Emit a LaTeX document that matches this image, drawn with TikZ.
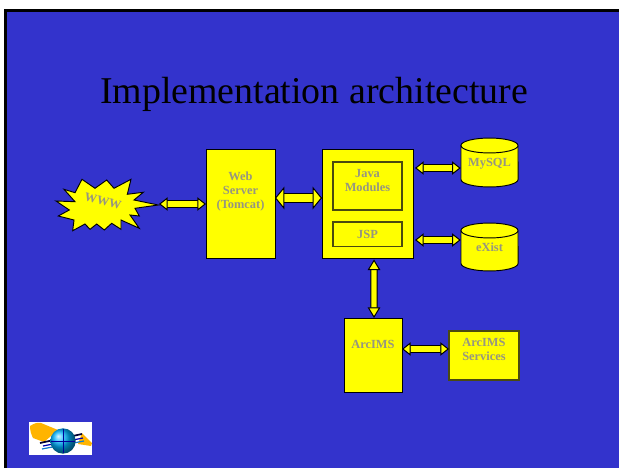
\documentclass[tikz,border=0pt]{standalone}
\usepackage{fontspec}
\setmainfont{Liberation Serif}
\usetikzlibrary{arrows.meta}
\definecolor{slideblue}{HTML}{3333CC}
\definecolor{boxyellow}{HTML}{FFFF00}
\definecolor{boxtext}{HTML}{969680}
\definecolor{innerline}{HTML}{4A4A10}
\definecolor{logoorange}{HTML}{FFB400}
\tikzset{
  x=0.75pt,y=-0.75pt,
  boxnode/.style={draw=black,line width=0.7pt,fill=boxyellow,inner sep=0pt,outer sep=0pt},
  innerbox/.style={draw=innerline,line width=0.8pt,fill=boxyellow,inner sep=0pt,outer sep=0pt},
  lbl/.style={text=boxtext,font=\bfseries\fontsize{9.3pt}{10.5pt}\selectfont,align=center,inner sep=0pt},
  cyl/.style={draw=black,line width=0.7pt,fill=boxyellow},
  dbarrow/.style={draw=black,line width=0.75pt,double=boxyellow,double distance=4.2pt,
    {Triangle[length=6.5pt,width=10pt,fill=boxyellow]}-{Triangle[length=6.5pt,width=10pt,fill=boxyellow]}},
  dbarrowthick/.style={draw=black,line width=0.75pt,double=boxyellow,double distance=6.2pt,
    {Triangle[length=7pt,width=17pt,fill=boxyellow]}-{Triangle[length=7pt,width=17pt,fill=boxyellow]}},
  dbarrowtall/.style={draw=black,line width=0.75pt,double=boxyellow,double distance=4pt,
    {Triangle[length=8pt,width=9.5pt,fill=boxyellow]}-{Triangle[length=8pt,width=9.5pt,fill=boxyellow]}}
}
\begin{document}
\begin{tikzpicture}
\useasboundingbox (0,0) rectangle (619,468);
\fill[white] (0,0) rectangle (619,468);
\fill[black] (4,9) rectangle (619,468);
\fill[slideblue] (7,12) rectangle (619,468);
\node[font=\fontsize{28.4pt}{32pt}\selectfont,text=black,inner sep=0pt] (title) at (314,94) {Implementation architecture};

% star
\draw[fill=boxyellow,draw=black,line width=0.7pt,line join=miter]
 (56,201)--(75,201.7)--(64,189.3)--(75,192.7)--(82,179.3)--(95,188.3)--(106.7,180)--(114,188.3)--(131,179.3)--(127.3,194.3)--(143.3,192.3)--(134,200)--(158.3,205)--(135,208.3)--(139.3,216)--(130,215)--(139.3,228.3)--(121,220)--(121,229.3)--(111.7,223.3)--(104.3,230)--(96.7,224)--(90,229.3)--(85,224)--(72.7,230.7)--(74,220)--(58.3,216)--(69.3,210)--cycle;
\coordinate (startip) at (159,204);
\node[lbl,rotate=-14] (www) at (103,201) {WWW};

\node[boxnode,minimum width=51.75pt,minimum height=81.75pt] (web) at (240.5,204) {};
\node[lbl] (webt) at (240.5,191.5) {Web\\Server\\(Tomcat)};

\node[boxnode,minimum width=68.25pt,minimum height=81.75pt] (server) at (367.5,204) {};
\node[innerbox,minimum width=51.75pt,minimum height=36pt] (java) at (367.5,186) {};
\node[lbl] (javat) at (367.5,181) {Java\\Modules};
\node[innerbox,minimum width=51.75pt,minimum height=18.5pt,text=boxtext,font=\bfseries\fontsize{9.3pt}{10.5pt}\selectfont] (jsp) at (367.5,234.3) {JSP};

% cylinders
\draw[cyl] (461,145.5) -- (461,179.5) arc[start angle=180,end angle=360,x radius=21.4pt,y radius=5.6pt] -- (518,145.5) arc[start angle=0,end angle=180,x radius=21.4pt,y radius=5.6pt] -- cycle;
\draw[cyl,fill=none] (461,145.5) arc[start angle=180,end angle=360,x radius=21.4pt,y radius=5.6pt];
\node[lbl,minimum width=42.75pt,minimum height=36pt] (mysql) at (489.5,163.5) {MySQL};
\draw[cyl] (461,230.5) -- (461,263.5) arc[start angle=180,end angle=360,x radius=21.4pt,y radius=5.6pt] -- (518,230.5) arc[start angle=0,end angle=180,x radius=21.4pt,y radius=5.6pt] -- cycle;
\draw[cyl,fill=none] (461,230.5) arc[start angle=180,end angle=360,x radius=21.4pt,y radius=5.6pt];
\node[lbl,minimum width=42.75pt,minimum height=36pt] (exist) at (489.5,247) {eXist};

\node[boxnode,minimum width=43.5pt,minimum height=55.5pt] (arcims) at (373,355) {};
\node[lbl] (arcimst) at (373,344) {ArcIMS};
\node[innerbox,minimum width=52.5pt,minimum height=36.75pt] (services) at (484,355.5) {};
\node[lbl] (servicest) at (484,349) {ArcIMS\\Services};

\draw[dbarrow] (startip) -- (web.west);
\draw[dbarrowthick] ([yshift=4.5pt]web.east) -- ([yshift=4.5pt]server.west);
\draw[dbarrow] ([xshift=1.5pt,yshift=27pt]server.east) -- ([yshift=-3.4pt]mysql.west);
\draw[dbarrow] ([xshift=1.5pt,yshift=-27pt]server.east) -- ([yshift=5.25pt]exist.west);
\draw[dbarrowtall] ([xshift=4.9pt,yshift=-0.7pt]server.south) -- ([xshift=0.75pt]arcims.north);
\draw[dbarrow] ([yshift=4.5pt]arcims.east) -- ([yshift=4.9pt]services.west);

% logo
\fill[white] (29,422) rectangle (92,455);
\fill[logoorange] (30,426) .. controls (33,424) and (37,422) .. (41,423) -- (58,430) -- (44,442) -- (33,438) .. controls (31,434) and (30,430) .. (30,426) -- cycle;
\fill[logoorange] (82,433) -- (92,443) -- (91,446) -- (78,444) -- cycle;
\draw[black!80!blue,line width=1.3pt] (40,443) -- (82,434);
\draw[blue!70!black,line width=0.9pt] (43,446) -- (83,438);
\draw[cyan!60!blue,line width=0.9pt] (42,449) -- (84,441);
\shade[ball color=cyan!70!blue] (63,441) circle (9.5pt);
\draw[blue!60!black,line width=0.4pt] (51,441) -- (75,441) (63,429) -- (63,453);
\end{tikzpicture}
\end{document}
